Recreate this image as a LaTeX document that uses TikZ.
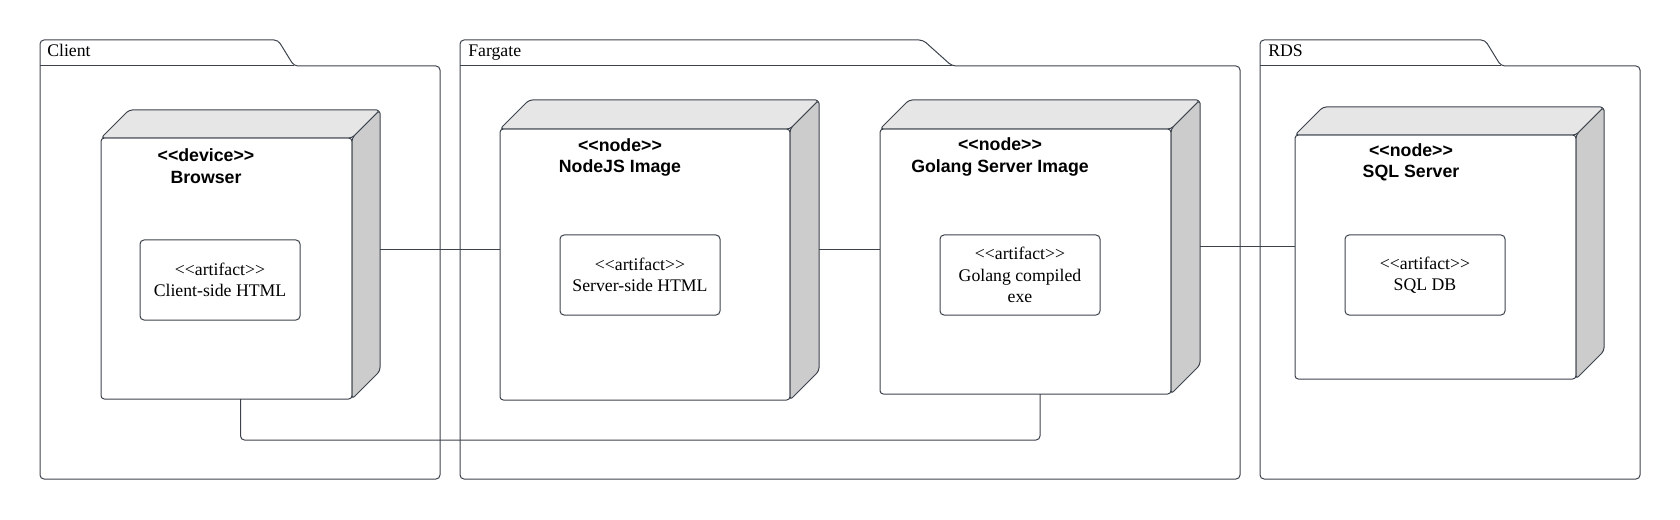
\documentclass[tikz,border=0pt]{standalone}
\usepackage{fontspec}
\newfontfamily\bodyfont{Liberation Serif}
\newfontfamily\headfont{Liberation Sans}
\usetikzlibrary{calc,fit}

\definecolor{linegray}{HTML}{3D434D}
\definecolor{topgray}{HTML}{E6E6E6}
\definecolor{sidegray}{HTML}{CCCCCC}

\tikzset{
  pkg/.style={draw=linegray, line width=0.75pt, rounded corners=3pt, line join=round},
  cube/.style={inner sep=0pt, outer sep=0pt},
  face/.style={draw=linegray, line width=0.75pt, rounded corners=2.5pt, line join=round},
  headtext/.style={font=\headfont\bfseries\fontsize{13.3}{16}\selectfont, align=center, inner sep=0.75pt},
  artifact/.style={draw=linegray, line width=0.75pt, rounded corners=3pt, fill=white, minimum width=120pt, minimum height=60pt, align=center, font=\bodyfont\fontsize{13.3}{16}\selectfont},
  pkglabel/.style={font=\bodyfont\fontsize{13.3}{16}\selectfont, inner sep=0pt, anchor=base west},
  wire/.style={draw=linegray, line width=0.75pt, rounded corners=3pt},
}

% front, top and side faces of a node box: #1 name, #2 depth
\newcommand{\cubefaces}[2]{%
  \draw[face, fill=white] (#1.south west) rectangle ($(#1.north east)+(-#2,#2)$);
  \draw[face, fill=topgray] ($(#1.north west)+(0,#2)$) -- ($(#1.north west)+(#2,0)$) -- (#1.north east) -- ($(#1.north east)+(-#2,#2)$) -- cycle;
  \draw[face, fill=sidegray] ($(#1.north east)+(-#2,#2)$) -- (#1.north east) -- ($(#1.south east)+(0,-#2)$) -- ($(#1.south east)+(-#2,0)$) -- cycle;
}

\begin{document}
\begin{tikzpicture}[x=0.75pt,y=0.75pt,yscale=-1,xscale=1]
\useasboundingbox (0,0) rectangle (1680,520);

%Shape: Package [Client]
\draw[pkg] (40,479) -- (40,40) -- (278,40) -- (294,66) -- (440,66) -- (440,479) -- cycle;
\draw[pkg] (40,66) -- (294,66);
%Shape: Package [Fargate]
\draw[pkg] (460,479) -- (460,40) -- (923,40) -- (952,66) -- (1240,66) -- (1240,479) -- cycle;
\draw[pkg] (460,66) -- (952,66);
%Shape: Package [RDS]
\draw[pkg] (1260,479) -- (1260,40) -- (1485,40) -- (1501,66) -- (1640,66) -- (1640,479) -- cycle;
\draw[pkg] (1260,66) -- (1501,66);

% Text Node
\node[pkglabel] (client-label) at (47,57) {Client};
\node[pkglabel] (fargate-label) at (468,57) {Fargate};
\node[pkglabel] (rds-label) at (1268,57) {RDS};

%Shape: Cube
\node[cube, fit={(101,110) (380,399)}] (browser) {};
\cubefaces{browser}{28}
\node[cube, fit={(500,100) (819,400)}] (nodejs) {};
\cubefaces{nodejs}{29}
\node[cube, fit={(880,100) (1200,394)}] (golang) {};
\cubefaces{golang}{29}
\node[cube, fit={(1295,107) (1604,379)}] (sql) {};
\cubefaces{sql}{28}

% Text Node
\node[headtext] (browser-title) at (206,166) {<<device>>\\Browser};
\node[headtext] (nodejs-title) at (620,157.5) {<<node>>\\NodeJS Image};
\node[headtext] (golang-title) at (1000,157) {<<node>>\\Golang Server Image};
\node[headtext] (sql-title) at (1411,162) {<<node>>\\SQL Server};

%Shape: Artifact
\node[artifact] (client-html) at (220,280) {<<artifact>>\\Client-side HTML};
\node[artifact] (server-html) at (640,275) {<<artifact>>\\Server-side HTML};
\node[artifact] (golang-exe) at (1020,275) {<<artifact>>\\Golang compiled\\exe};
\node[artifact] (sql-db) at (1425,275) {<<artifact>>\\SQL DB};

%Straight Lines
\draw[wire] (browser.east |- nodejs.west) -- (nodejs.west);
\draw[wire] (nodejs.east) -- (nodejs.east -| golang.west);
\draw[wire] (golang.east) -- (golang.east -| sql.west);
\draw[wire] (browser.south) -- ++(0,41) -| (golang.south);

\end{tikzpicture}
\end{document}
